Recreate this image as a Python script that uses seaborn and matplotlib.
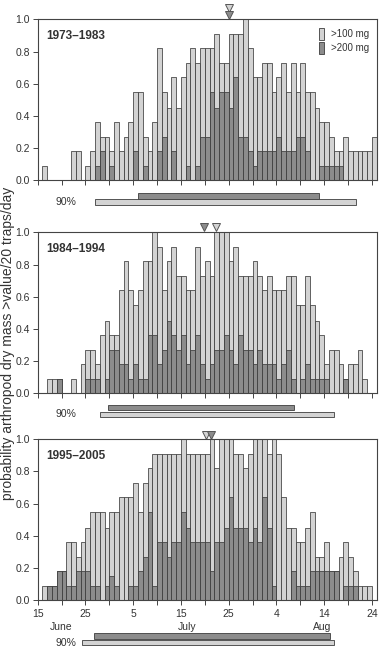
import numpy as np
import pandas as pd
import matplotlib
matplotlib.use("Agg")
import matplotlib.pyplot as plt
import matplotlib.transforms as mtransforms
from matplotlib.patches import Patch, Rectangle
import seaborn as sns

# ---------------- data ----------------
# day offset after 15 June (one bar per day)
days = list(range(71))
periods = ["1973–1983", "1984–1994", "1995–2005"]
series_labels = [">100 mg", ">200 mg"]

p100_a = [0, .09, 0, 0, 0, 0, 0, .18, .18, 0,
          .09, .18, .36, .27, .27, .18, .36, .18, .27, .36,
          .55, .55, .27, .18, .36, .82, .55, .45, .64, .45,
          .64, .73, .82, .73, .82, .82, .82, .91, .73, .73,
          .91, .91, .91, 1.0, .82, .64, .64, .73, .73, .55,
          .64, .73, .55, .73, .55, .73, .55, .55, .45, .36,
          .36, .27, .18, .18, .27, .18, .18, .18, .18, .18,
          .27]
p200_a = [0, 0, 0, 0, 0, 0, 0, 0, 0, 0,
          0, 0, .09, .18, 0, .09, 0, 0, 0, 0,
          .18, 0, .09, 0, 0, .18, .27, 0, .18, 0,
          0, .09, 0, .09, .27, .27, .55, .45, .55, .55,
          .45, .64, .27, .27, .18, .09, .18, .18, .18, .18,
          .27, .18, .18, .18, .27, .27, .18, 0, 0, .09,
          .09, .09, .09, .09, 0, 0, 0, 0, 0, 0,
          0]

p100_b = [0, 0, .09, .09, .09, 0, 0, .09, 0, .18,
          .27, .27, .18, .36, .45, .36, .36, .64, .82, .64,
          .55, .64, .82, .82, 1.0, .91, .64, .82, .91, .73,
          .73, .64, .64, .91, .73, .82, .73, 1.0, 1.0, 1.0,
          .82, .91, .73, .73, .73, .82, .73, .64, .73, .64,
          .64, .64, .73, .73, .55, .55, .73, .55, .45, .36,
          .18, .27, .27, .18, .09, .18, .18, .27, .09, 0,
          0]
p200_b = [0, 0, 0, 0, .09, 0, 0, 0, 0, 0,
          .09, .09, .09, 0, .09, .27, .27, .18, .18, .09,
          .18, .09, .09, .36, .36, .18, .27, .45, .36, .27,
          .36, .18, .27, .36, .18, .09, .18, .27, .27, .36,
          .27, .18, .36, .27, .27, .18, .27, .18, .18, .18,
          .09, .18, .27, .09, 0, .09, .18, .09, .09, .09,
          .09, 0, 0, 0, .09, 0, 0, 0, 0, 0,
          0]

p100_c = [0, .09, .09, .09, .18, .18, .36, .36, .27, .36,
          .45, .55, .55, .55, .45, .55, .55, .64, .64, .64,
          .73, .55, .73, .82, .91, .91, .91, .91, .91, .91,
          1.0, .91, .91, .91, .91, .91, 1.0, .82, 1.0, 1.0,
          1.0, .91, .91, .82, .91, 1.0, 1.0, 1.0, .91, 1.0,
          .91, .64, .45, .45, .36, .36, .45, .55, .27, .27,
          .36, .18, .18, .27, .36, .27, .18, .09, .09, .09,
          0]
p200_c = [0, 0, .09, .09, .18, .18, .09, .09, .18, .18,
          .18, .09, .09, 0, .09, .15, .09, 0, 0, .09,
          .09, .18, .27, .55, .09, .36, .36, .27, .36, .36,
          .55, .45, .36, .36, .36, .36, .18, .36, .36, .45,
          .64, .45, .45, .45, .36, .45, .36, .64, .45, .09,
          0, 0, 0, .18, .09, .09, .09, .18, .18, .18,
          .18, .18, .18, 0, .09, .09, .09, 0, 0, 0,
          0]

p100 = [p100_a, p100_b, p100_c]
p200 = [p200_a, p200_b, p200_c]

# median dates (days after 15 June)
median100 = [40.0, 37.4, 35.2]
median200 = [40.0, 34.9, 36.3]
# 90% ranges (days after 15 June)
range100_start = [12.0, 13.1, 9.35]
range100_end = [66.7, 62.0, 62.0]
range200_start = [21.0, 14.8, 11.7]
range200_end = [58.9, 53.6, 61.3]

xtick_days = [0, 10, 20, 30, 40, 50, 60, 70]
xtick_labels = ["15", "25", "5", "15", "25", "4", "14", "24"]
month_labels = ["June", "July", "Aug"]
month_days = [4.9, 31.2, 59.5]

# ---------------- style ----------------
sns.set_style("ticks")
plt.rcParams['font.family'] = ['Liberation Sans', 'DejaVu Sans']
LIGHT = "#d3d3d3"
DARK = "#8c8c8c"
EDGE = "#3c3c3c"
TXT = "#333333"

fig = plt.figure(figsize=(3.82, 6.48), dpi=100)
L, W, H = 37.7 / 382, 339 / 382, 161 / 648
bottoms = [1 - 180.3 / 648, 1 - 393.3 / 648, 1 - 600.3 / 648]

# layout of 90% bars (axes-fraction y)
rng_y = [(-0.081, -0.118), (-0.073, -0.114), (-0.205, -0.247)]
rng_h = 0.033
tri_y = [(1.073, 1.027), (1.03, 1.03), (1.027, 1.027)]

for i in range(3):
    ax = fig.add_axes([L, bottoms[i], W, H])
    df = pd.DataFrame({"day": np.array(days) + 0.5,
                       "p100": p100[i], "p200": p200[i]})
    sns.barplot(data=df, x="day", y="p100", native_scale=True, width=1,
                color=LIGHT, edgecolor=EDGE, linewidth=0.55, saturation=1,
                errorbar=None, ax=ax)
    sns.barplot(data=df, x="day", y="p200", native_scale=True, width=1,
                color=DARK, edgecolor=EDGE, linewidth=0.55, saturation=1,
                errorbar=None, ax=ax)
    ax.set_xlim(0, 71)
    ax.set_ylim(0, 1.0)
    ax.set_xlabel("")
    ax.set_ylabel("")
    ax.set_yticks(np.arange(0, 1.01, 0.2))
    ax.set_xticks(xtick_days)
    ax.set_xticks([d + 5 for d in xtick_days[:-1]], minor=True)
    if i == 2:
        ax.set_xticklabels(xtick_labels)
    else:
        ax.set_xticklabels([])
    ax.tick_params(axis="both", which="both", direction="out", length=3.5,
                   width=0.7, color="#444444", labelsize=7.5, labelcolor=TXT, pad=2)
    ax.tick_params(axis="x", which="both", pad=3)
    for sp in ax.spines.values():
        sp.set_visible(True)
        sp.set_linewidth(0.8)
        sp.set_color("#444444")

    ax.text(0.024, 0.895, periods[i], transform=ax.transAxes, fontsize=8.5,
            fontweight="bold", color=TXT, va="center", ha="left")

    trans = mtransforms.blended_transform_factory(ax.transData, ax.transAxes)
    # median markers
    ax.plot([median100[i]], [tri_y[i][0]], marker="v", markersize=6,
            color=LIGHT, markeredgecolor="#555555", markeredgewidth=0.7,
            transform=trans, clip_on=False, linestyle="none")
    ax.plot([median200[i]], [tri_y[i][1]], marker="v", markersize=6,
            color=DARK, markeredgecolor="#555555", markeredgewidth=0.7,
            transform=trans, clip_on=False, linestyle="none")
    # 90% ranges
    y200, y100 = rng_y[i]
    ax.add_patch(Rectangle((range200_start[i], y200 - rng_h),
                           range200_end[i] - range200_start[i], rng_h,
                           transform=trans, clip_on=False, facecolor=DARK,
                           edgecolor=EDGE, linewidth=0.6))
    ax.add_patch(Rectangle((range100_start[i], y100 - rng_h),
                           range100_end[i] - range100_start[i], rng_h,
                           transform=trans, clip_on=False, facecolor=LIGHT,
                           edgecolor=EDGE, linewidth=0.6))
    ax.text(6.0, y100 - rng_h / 2, "90%",
            transform=trans, fontsize=7.5, color=TXT, ha="center", va="center")

    if i == 0:
        handles = [Patch(facecolor=LIGHT, edgecolor=EDGE, linewidth=0.6),
                   Patch(facecolor=DARK, edgecolor=EDGE, linewidth=0.6)]
        leg = ax.legend(handles, series_labels, loc="upper left",
                        bbox_to_anchor=(0.81, 0.99), frameon=False,
                        fontsize=7, handlelength=0.55, handleheight=1.5,
                        handletextpad=0.7, labelspacing=0.25, borderpad=0.2)
        for t in leg.get_texts():
            t.set_color(TXT)
    if i == 2:
        for m, d in zip(month_labels, month_days):
            ax.text(d, -0.165, m, transform=trans, fontsize=7.5, color=TXT,
                    ha="center", va="center")

fig.text(8 / 382, 0.47, "probability arthropod dry mass >value/20 traps/day",
         rotation=90, ha="center", va="center", fontsize=10, color=TXT)

fig.savefig("out.png", dpi=100)
